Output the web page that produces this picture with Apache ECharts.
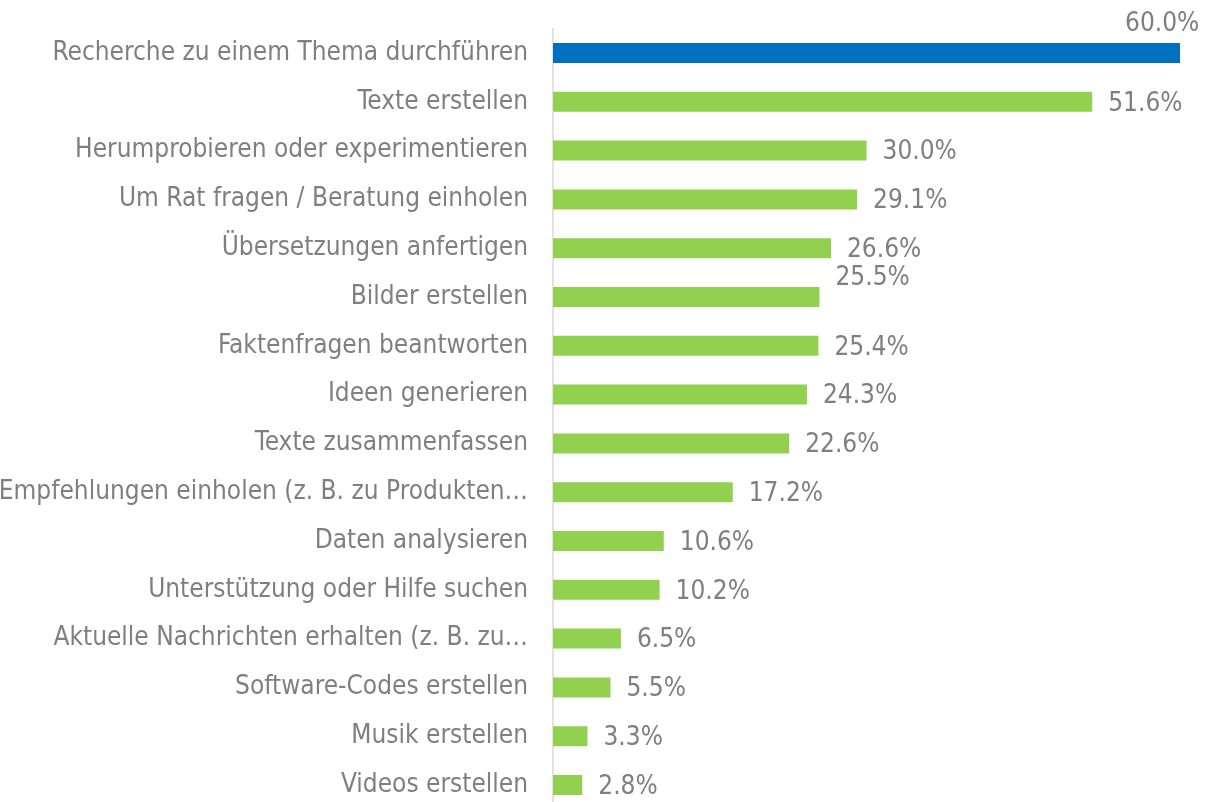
<!DOCTYPE html>
<html>
<head>
<meta charset="utf-8">
<script src="https://cdn.jsdelivr.net/npm/echarts@6/dist/echarts.min.js"></script>
<style>
  html, body { margin: 0; padding: 0; background: #fff; }
  #chart { width: 1226px; height: 802px; }
</style>
</head>
<body>
<div id="chart"></div>
<script>
// Kategorien (von oben nach unten)
var categories = [
    'Recherche zu einem Thema durchführen',
    'Texte erstellen',
    'Herumprobieren oder experimentieren',
    'Um Rat fragen / Beratung einholen',
    'Übersetzungen anfertigen',
    'Bilder erstellen',
    'Faktenfragen beantworten',
    'Ideen generieren',
    'Texte zusammenfassen',
    'Empfehlungen einholen (z. B. zu Produkten…',
    'Daten analysieren',
    'Unterstützung oder Hilfe suchen',
    'Aktuelle Nachrichten erhalten (z. B. zu…',
    'Software-Codes erstellen',
    'Musik erstellen',
    'Videos erstellen'
];
// Anteile in %
var values = [60.0, 51.6, 30.0, 29.1, 26.6, 25.5, 25.4, 24.3, 22.6, 17.2, 10.6, 10.2, 6.5, 5.5, 3.3, 2.8];

var textColor = '#7f7f7f';
var fontFamily = '"DejaVu Sans Condensed", "DejaVu Sans", sans-serif';

var chart = echarts.init(document.getElementById('chart'));

// Balken aufbauen: erster Balken blau, Rest grün, Label-Versatz wie im Original
var barData = [];
for (var i = 0; i < values.length; i++) {
    var item = {
        value: values[i],
        itemStyle: { color: i == 0 ? '#0070c0' : '#92d050' },
        label: { offset: [0, 2] }
    };
    if (i == 0) {
        item.label = { offset: [-71, -29] };
    } else if (i == 5) {
        item.label = { offset: [0, -19] };
    }
    barData.push(item);
}

var option = {
    animation: false,
    backgroundColor: '#ffffff',
    grid: {
        left: 553,
        width: 627,
        top: 28.6,
        height: 780.8,
        containLabel: false,
        outerBoundsMode: 'none'
    },
    xAxis: {
        type: 'value',
        min: 0,
        max: 60,
        show: false
    },
    yAxis: {
        type: 'category',
        inverse: true,
        data: categories,
        axisLine: { show: true, lineStyle: { color: '#d9d9d9', width: 1.5 } },
        axisTick: { show: false },
        axisLabel: {
            margin: 25,
            color: textColor,
            fontSize: 26,
            fontFamily: fontFamily
        }
    },
    series: [
        {
            type: 'bar',
            barWidth: 20,
            data: barData,
            label: {
                show: true,
                position: 'right',
                distance: 16,
                color: textColor,
                fontSize: 26,
                fontFamily: fontFamily,
                formatter: function (p) {
                    return p.value.toFixed(1) + '%';
                }
            }
        }
    ]
};
chart.setOption(option);
</script>
</body>
</html>
